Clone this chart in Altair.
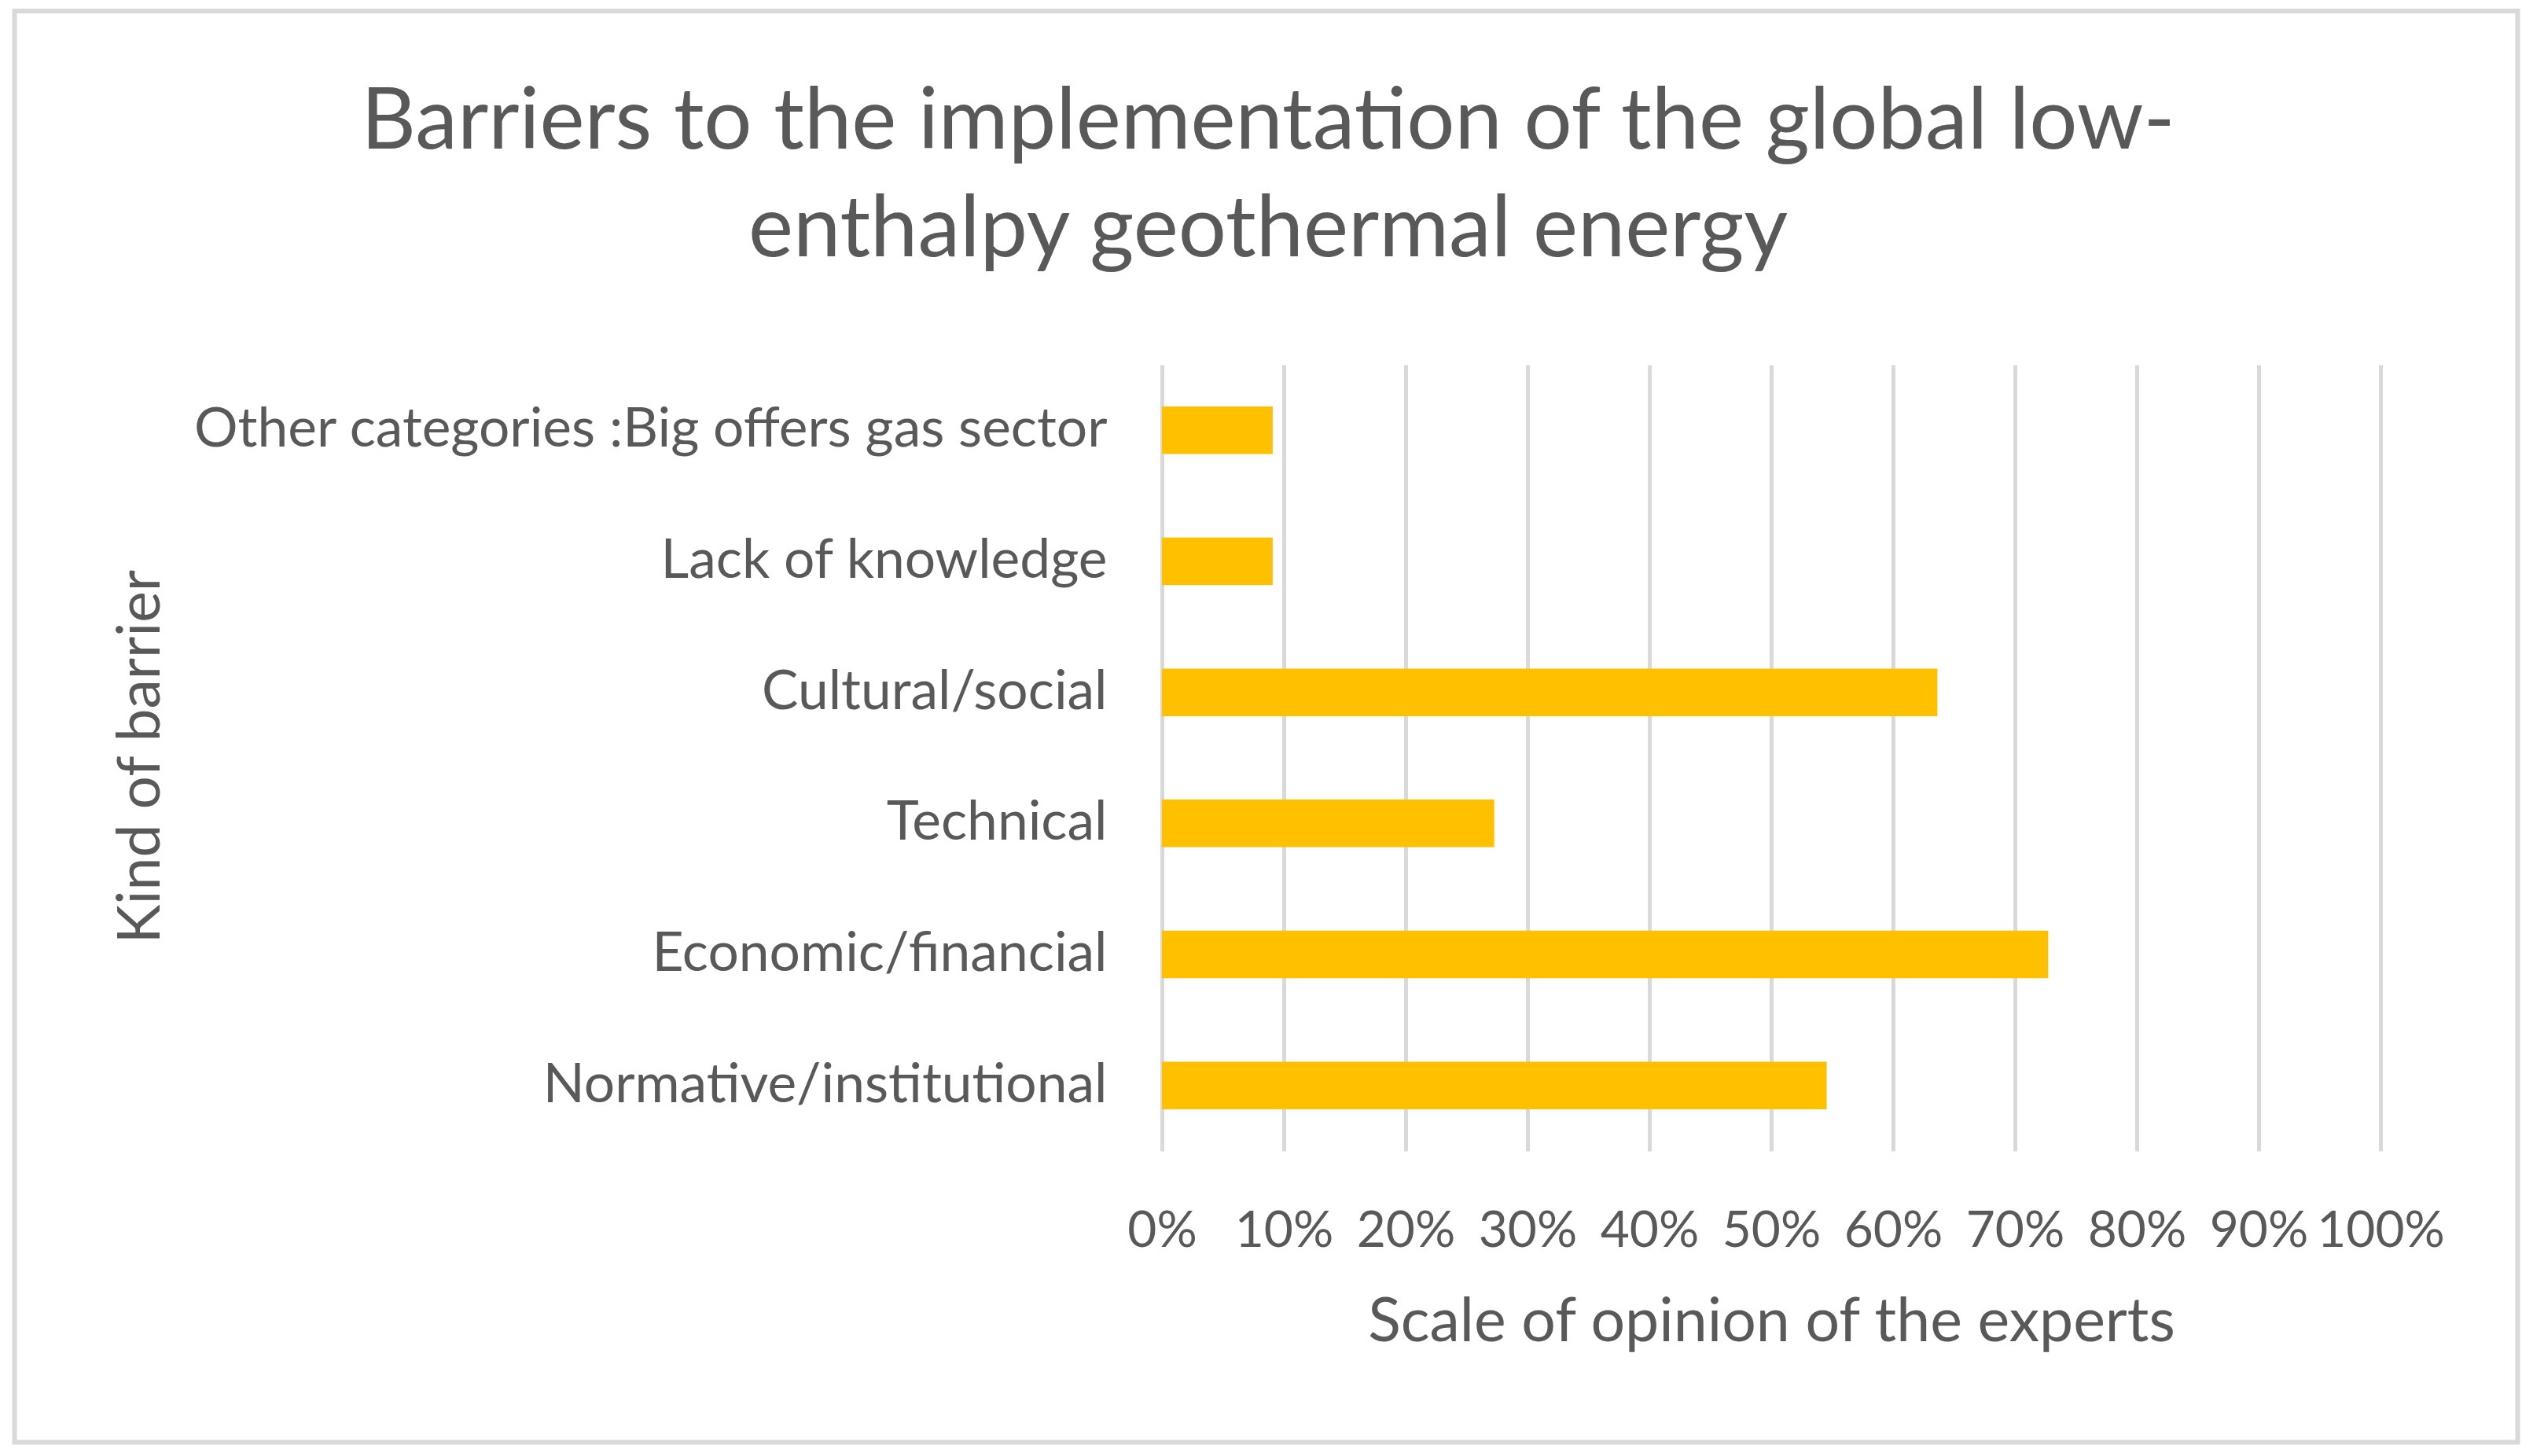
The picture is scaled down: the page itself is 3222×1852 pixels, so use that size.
import altair as alt
import pandas as pd

categories = [
    "Other categories :Big offers gas sector",
    "Lack of knowledge",
    "Cultural/social",
    "Technical",
    "Economic/financial",
    "Normative/institutional",
]
shares = [0.0909, 0.0909, 0.6364, 0.2727, 0.7273, 0.5455]
x_ticks = [0.0, 0.1, 0.2, 0.3, 0.4, 0.5, 0.6, 0.7, 0.8, 0.9, 1.0]
title_lines = [
    "Barriers to the implementation of the global low-",
    "enthalpy geothermal energy",
]
x_title = "Scale of opinion of the experts"
y_title = "Kind of barrier"

FONT = "Lato"
TEXT = "#595959"
GRID = "#D9D9D9"
BAR = "#FFC000"

df = pd.DataFrame({"barrier": categories, "share": shares})
frame_df = pd.DataFrame({"frame": [0]})

bars = alt.Chart(df).mark_bar(color=BAR).encode(
    x=alt.X(
        "share:Q",
        scale=alt.Scale(domain=[0, 1], nice=False),
        axis=alt.Axis(
            values=x_ticks,
            format=".0%",
            title=x_title,
            grid=True,
            gridColor=GRID,
            gridWidth=5,
            domain=False,
            ticks=False,
            tickSize=0,
            labelPadding=70,
            labelFontSize=64,
            labelFont=FONT,
            labelColor=TEXT,
            labelOverlap=False,
            labelFlush=False,
            titleFont=FONT,
            titleFontSize=77,
            titleColor=TEXT,
            titleFontWeight="normal",
            titleY=241,
            titleBaseline="alphabetic",
        ),
    ),
    y=alt.Y(
        "barrier:N",
        sort=categories,
        scale=alt.Scale(paddingInner=0.637, paddingOuter=0.3185),
        axis=alt.Axis(
            title=y_title,
            grid=False,
            domain=False,
            ticks=False,
            tickSize=0,
            labelPadding=70,
            labelLimit=2000,
            labelFontSize=69.5,
            labelFont=FONT,
            labelColor=TEXT,
            titleFont=FONT,
            titleFontSize=75,
            titleColor=TEXT,
            titleFontWeight="normal",
            titleX=-1276,
            titleY=498,
            titleAngle=270,
            titleAlign="center",
            titleBaseline="alphabetic",
        ),
    ),
)

border = alt.Chart(frame_df).mark_rect(
    fillOpacity=0, stroke=GRID, strokeWidth=6
).encode(
    x=alt.value(-1459.5),
    x2=alt.value(1724.5),
    y=alt.value(-450),
    y2=alt.value(1370.5),
)

chart = (
    alt.layer(bars, border)
    .properties(
        width=1550,
        height=1000,
        padding={"left": 1470, "top": 456, "right": 180, "bottom": 374},
        autosize=alt.AutoSizeParams(type="none"),
        background="white",
        title=alt.TitleParams(
            text=title_lines,
            font=FONT,
            fontSize=108,
            color=TEXT,
            fontWeight="normal",
            anchor="middle",
            frame="group",
            dx=-640,
            dy=463,
            offset=125,
            lineHeight=137,
        ),
    )
    .configure_view(strokeWidth=0)
)

chart.save("out.html", embed_options={"renderer": "svg", "actions": False})
